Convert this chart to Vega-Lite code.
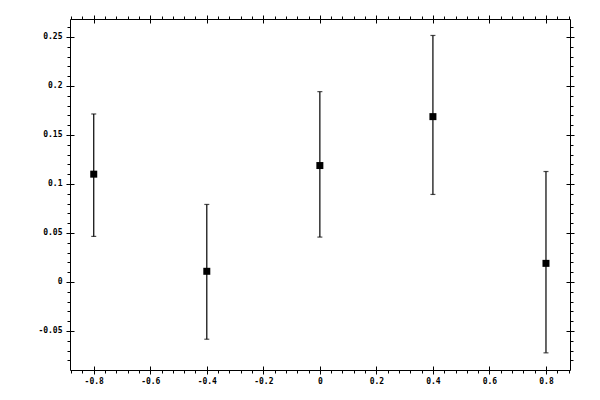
{
  "$schema": "https://vega.github.io/schema/vega-lite/v6.json",
  "width": 500,
  "height": 351,
  "autosize": {"type": "none"},
  "padding": {"left": 70, "top": 19, "right": 30, "bottom": 30},
  "background": "white",
  "config": {
    "view": {"stroke": "black", "strokeWidth": 1},
    "axis": {
      "domain": false,
      "grid": false,
      "title": null,
      "tickColor": "black",
      "tickWidth": 1,
      "labelColor": "black",
      "labelFont": "DejaVu Sans Mono",
      "labelFontSize": 8,
      "labelFontWeight": "bold",
      "labelFlush": false,
      "labelOverlap": false,
      "labelBound": false
    }
  },
  "data": {
    "values": [
      {"x": -0.8, "y": 0.110, "lo": 0.0465, "hi": 0.1714},
      {"x": -0.4, "y": 0.0109, "lo": -0.0584, "hi": 0.0791},
      {"x": 0.0, "y": 0.1188, "lo": 0.0458, "hi": 0.1942},
      {"x": 0.4, "y": 0.1687, "lo": 0.0893, "hi": 0.2515},
      {"x": 0.8, "y": 0.019, "lo": -0.0723, "hi": 0.1127}
    ]
  },
  "layer": [
    {
      "mark": {"type": "rule", "color": "black", "strokeWidth": 1.2},
      "encoding": {
        "x": {
          "field": "x", "type": "quantitative",
          "scale": {"domain": [-0.884, 0.885], "nice": false, "zero": false},
          "axis": {
            "orient": "bottom", "offset": -4, "tickSize": 8, "labelPadding": 3,
            "values": [-0.8, -0.6, -0.4, -0.2, 0, 0.2, 0.4, 0.6, 0.8],
            "labelExpr": "toString(datum.value)"
          }
        },
        "y": {
          "field": "lo", "type": "quantitative",
          "scale": {"domain": [-0.0898, 0.2683], "nice": false, "zero": false},
          "axis": {
            "orient": "left", "offset": -4, "tickSize": 8, "labelPadding": 4,
            "values": [-0.05, 0, 0.05, 0.1, 0.15, 0.2, 0.25],
            "labelExpr": "toString(datum.value)"
          }
        },
        "y2": {"field": "hi"}
      }
    },
    {
      "mark": {"type": "tick", "color": "black", "orient": "horizontal", "size": 5, "thickness": 1.2},
      "encoding": {
        "x": {
          "field": "x", "type": "quantitative",
          "axis": {
            "orient": "bottom", "tickSize": 3, "labels": false,
            "values": [-0.88, -0.84, -0.8, -0.76, -0.72, -0.68, -0.64, -0.6, -0.56, -0.52, -0.48, -0.44, -0.4, -0.36, -0.32, -0.28, -0.24, -0.2, -0.16, -0.12, -0.08, -0.04, 0, 0.04, 0.08, 0.12, 0.16, 0.2, 0.24, 0.28, 0.32, 0.36, 0.4, 0.44, 0.48, 0.52, 0.56, 0.6, 0.64, 0.68, 0.72, 0.76, 0.8, 0.84, 0.88]
          }
        },
        "y": {
          "field": "hi", "type": "quantitative",
          "axis": {
            "orient": "left", "tickSize": 3, "labels": false,
            "values": [-0.08, -0.07, -0.06, -0.05, -0.04, -0.03, -0.02, -0.01, 0, 0.01, 0.02, 0.03, 0.04, 0.05, 0.06, 0.07, 0.08, 0.09, 0.1, 0.11, 0.12, 0.13, 0.14, 0.15, 0.16, 0.17, 0.18, 0.19, 0.2, 0.21, 0.22, 0.23, 0.24, 0.25, 0.26]
          }
        }
      }
    },
    {
      "mark": {"type": "tick", "color": "black", "orient": "horizontal", "size": 5, "thickness": 1.2},
      "encoding": {
        "x": {
          "field": "x", "type": "quantitative",
          "axis": {
            "orient": "top", "offset": -4, "tickSize": 8, "labels": false,
            "values": [-0.8, -0.6, -0.4, -0.2, 0, 0.2, 0.4, 0.6, 0.8]
          }
        },
        "y": {
          "field": "lo", "type": "quantitative",
          "axis": {
            "orient": "right", "offset": -4, "tickSize": 8, "labels": false,
            "values": [-0.05, 0, 0.05, 0.1, 0.15, 0.2, 0.25]
          }
        }
      }
    },
    {
      "mark": {"type": "point", "shape": "square", "filled": true, "color": "black", "size": 49, "opacity": 1},
      "encoding": {
        "x": {
          "field": "x", "type": "quantitative",
          "axis": {
            "orient": "top", "tickSize": 3, "labels": false,
            "values": [-0.88, -0.84, -0.8, -0.76, -0.72, -0.68, -0.64, -0.6, -0.56, -0.52, -0.48, -0.44, -0.4, -0.36, -0.32, -0.28, -0.24, -0.2, -0.16, -0.12, -0.08, -0.04, 0, 0.04, 0.08, 0.12, 0.16, 0.2, 0.24, 0.28, 0.32, 0.36, 0.4, 0.44, 0.48, 0.52, 0.56, 0.6, 0.64, 0.68, 0.72, 0.76, 0.8, 0.84, 0.88]
          }
        },
        "y": {
          "field": "y", "type": "quantitative",
          "axis": {
            "orient": "right", "tickSize": 3, "labels": false,
            "values": [-0.08, -0.07, -0.06, -0.05, -0.04, -0.03, -0.02, -0.01, 0, 0.01, 0.02, 0.03, 0.04, 0.05, 0.06, 0.07, 0.08, 0.09, 0.1, 0.11, 0.12, 0.13, 0.14, 0.15, 0.16, 0.17, 0.18, 0.19, 0.2, 0.21, 0.22, 0.23, 0.24, 0.25, 0.26]
          }
        }
      }
    }
  ],
  "resolve": {"axis": {"x": "independent", "y": "independent"}}
}
